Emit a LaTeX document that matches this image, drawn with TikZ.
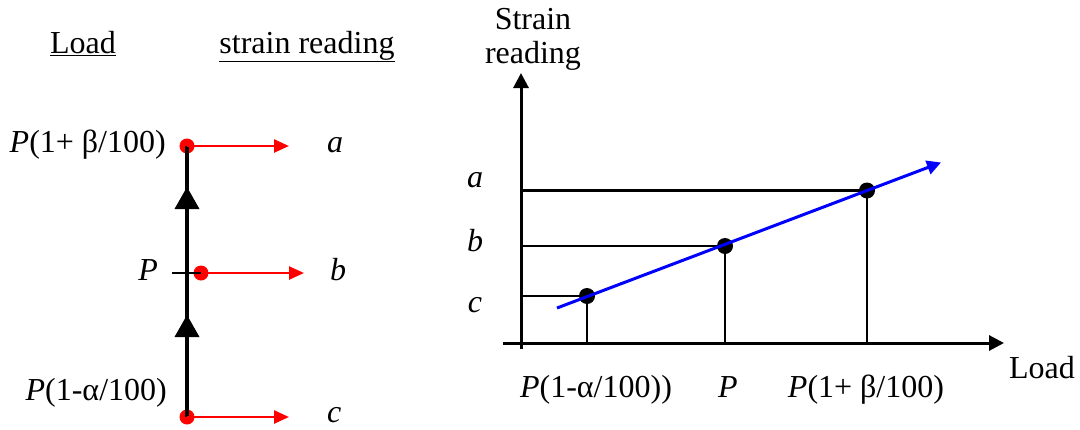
\documentclass[tikz,border=0pt]{standalone}
\usepackage{fontspec}
\setmainfont{Liberation Serif}
\usetikzlibrary{arrows.meta}
\begin{document}
\begin{tikzpicture}[x=1pt,y=-1pt,
  lbl/.style={inner sep=0pt,font=\fontsize{32}{38}\selectfont},
  reddot/.style={circle,fill=red,inner sep=0pt,minimum size=15pt},
  blackdot/.style={circle,fill=black,inner sep=0pt,minimum size=16pt},
  redarrow/.style={draw=red,line width=2.5pt,-{Triangle[length=15pt,width=13pt]}},
  axis/.style={line width=3pt,-{Triangle[length=15pt,width=15pt]}},
  hline/.style={line width=2.6pt},
  vline/.style={line width=1.8pt},
  uparrowhead/.style={fill=black}
]
\useasboundingbox (0,0) rectangle (1080,429);

% ---------- Left panel ----------
\node[lbl,anchor=base] (hload) at (83,53) {\underline{Load}};
\node[lbl,anchor=base] (hstrain) at (307,53) {\underline{strain reading}};

\node[reddot] (dtop) at (187,146) {};
\node[reddot] (dmid) at (201,273) {};
\node[reddot] (dbot) at (187,417) {};

\draw[line width=4pt] (dbot.center) -- (dtop.center);
\draw[line width=1.6pt] (172,273) -- (dmid.center);
\fill[uparrowhead] (187,187) -- (174.5,209) -- (199.5,209) -- cycle;
\fill[uparrowhead] (187,315) -- (174.5,337) -- (199.5,337) -- cycle;

\coordinate (etop) at (289,146);
\coordinate (emid) at (304,273);
\coordinate (ebot) at (289,417);
\draw[redarrow] (dtop.center) -- (etop);
\draw[redarrow] (dmid.center) -- (emid);
\draw[redarrow] (dbot.center) -- (ebot);

\node[lbl,anchor=base east] (ltop) at (166,152) {\textit{P}(1+ β/100)};
\node[lbl,anchor=base east] (lmid) at (158,280) {\textit{P}};
\node[lbl,anchor=base east] (lbot) at (167,400) {\textit{P}(1-α/100)};

\node[lbl,anchor=base west] (ra) at (327,152) {\textit{a}};
\node[lbl,anchor=base west] (rb) at (330,280) {\textit{b}};
\node[lbl,anchor=base west] (rc) at (327,422) {\textit{c}};

% ---------- Right panel ----------
\coordinate (yb) at (521,349);
\coordinate (yt) at (521,73);
\coordinate (xl) at (503,343);
\coordinate (xr) at (1004,343);
\draw[axis] (yb) -- (yt);
\draw[axis] (xl) -- (xr);

\node[blackdot] (pc) at (587,296) {};
\node[blackdot] (pb) at (725,246) {};
\node[blackdot] (pa) at (867,190.5) {};

\draw[hline] (521,190.5) -- (pa.center);
\draw[hline] (521,246) -- (pb.center);
\draw[hline] (521,296) -- (pc.center);

\draw[vline] (pa.center) -- (867,343);
\draw[vline] (pb.center) -- (725,343);
\draw[vline] (pc.center) -- (587,343);

\coordinate (bs) at (557,308);
\coordinate (be) at (941,162.5);
\draw[draw=blue,line width=3pt,-{Triangle[length=14pt,width=14pt]}] (bs) -- (be);

\node[lbl,anchor=base] (ys1) at (533,29) {Strain};
\node[lbl,anchor=base] (ys2) at (533,63) {reading};
\node[lbl,anchor=base east] (xlab) at (1075,378) {Load};

\node[lbl,anchor=base] (la) at (475,187) {\textit{a}};
\node[lbl,anchor=base] (lb) at (475,251) {\textit{b}};
\node[lbl,anchor=base] (lc) at (475,312) {\textit{c}};

\node[lbl,anchor=base] (xc) at (596,397) {\textit{P}(1-α/100))};
\node[lbl,anchor=base] (xb) at (728,397) {\textit{P}};
\node[lbl,anchor=base] (xa) at (866,397) {\textit{P}(1+ β/100)};
\end{tikzpicture}
\end{document}
